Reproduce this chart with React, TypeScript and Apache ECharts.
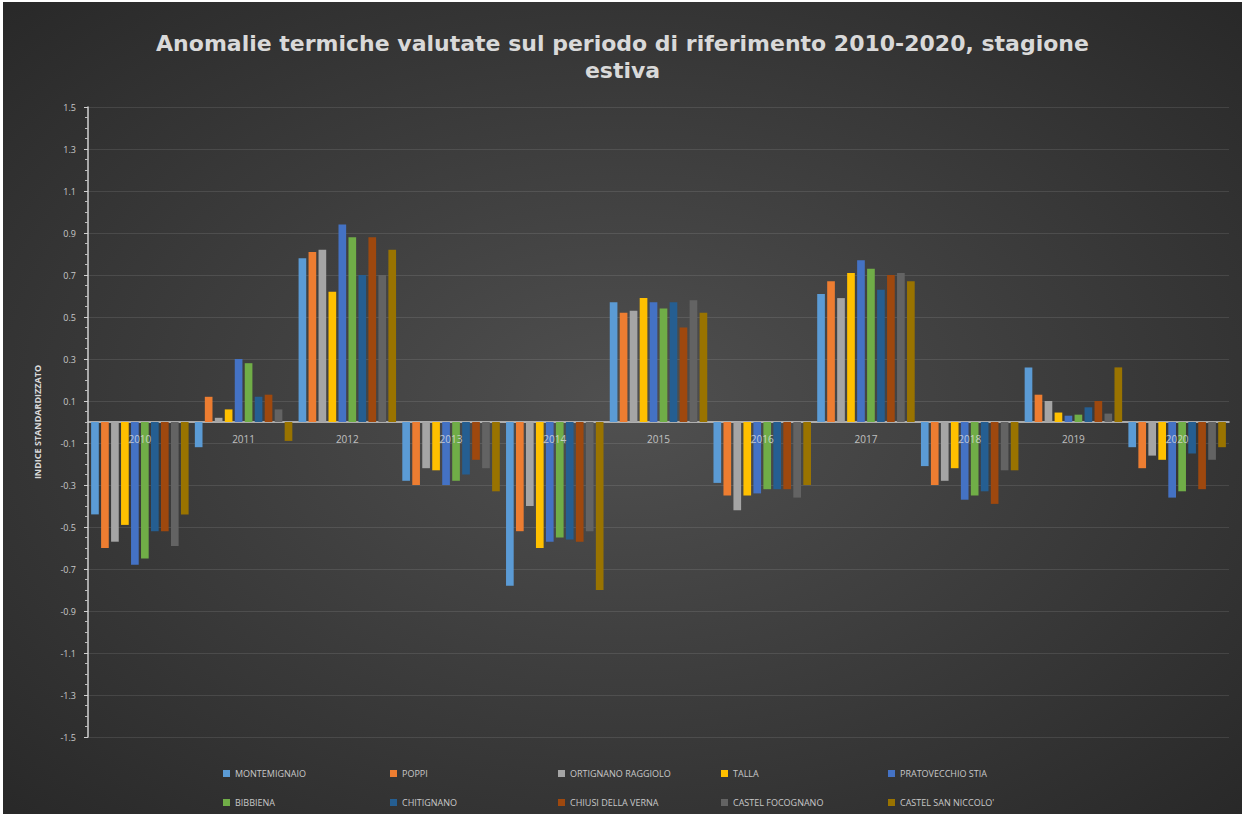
import React, { useEffect, useRef } from "react";
import * as echarts from "echarts";

const years = ["2010", "2011", "2012", "2013", "2014", "2015", "2016", "2017", "2018", "2019", "2020"];

const montemignaio = [-0.44, -0.12, 0.78, -0.28, -0.78, 0.57, -0.29, 0.61, -0.21, 0.26, -0.12];
const poppi = [-0.6, 0.12, 0.81, -0.3, -0.52, 0.52, -0.35, 0.67, -0.3, 0.13, -0.22];
const ortignano = [-0.57, 0.02, 0.82, -0.22, -0.4, 0.53, -0.42, 0.59, -0.28, 0.1, -0.16];
const talla = [-0.49, 0.06, 0.62, -0.23, -0.6, 0.59, -0.35, 0.71, -0.22, 0.045, -0.18];
const pratovecchio = [-0.68, 0.3, 0.94, -0.3, -0.57, 0.57, -0.34, 0.77, -0.37, 0.03, -0.36];
const bibbiena = [-0.65, 0.28, 0.88, -0.28, -0.55, 0.54, -0.32, 0.73, -0.35, 0.035, -0.33];
const chitignano = [-0.52, 0.12, 0.7, -0.25, -0.56, 0.57, -0.32, 0.63, -0.33, 0.07, -0.15];
const chiusi = [-0.52, 0.13, 0.88, -0.18, -0.57, 0.45, -0.32, 0.7, -0.39, 0.1, -0.32];
const castelFocognano = [-0.59, 0.06, 0.7, -0.22, -0.52, 0.58, -0.36, 0.71, -0.23, 0.04, -0.18];
const castelSanNiccolo = [-0.44, -0.09, 0.82, -0.33, -0.8, 0.52, -0.3, 0.67, -0.23, 0.26, -0.12];

const seriesNames = [
  "MONTEMIGNAIO",
  "POPPI",
  "ORTIGNANO RAGGIOLO",
  "TALLA",
  "PRATOVECCHIO STIA",
  "BIBBIENA",
  "CHITIGNANO",
  "CHIUSI DELLA VERNA",
  "CASTEL FOCOGNANO",
  "CASTEL SAN NICCOLO'",
];
const seriesData = [
  montemignaio,
  poppi,
  ortignano,
  talla,
  pratovecchio,
  bibbiena,
  chitignano,
  chiusi,
  castelFocognano,
  castelSanNiccolo,
];
const seriesColors = [
  "#5B9BD5",
  "#ED7D31",
  "#A5A5A5",
  "#FFC000",
  "#4472C4",
  "#70AD47",
  "#255E91",
  "#9E480E",
  "#636363",
  "#997300",
];

const title = "Anomalie termiche valutate sul periodo di riferimento 2010-2020, stagione\nestiva";
const yAxisTitle = "INDICE STANDARDIZZATO";

// legend layout (container coordinates)
const legendCols = [215, 382, 550, 713, 880];
const legendRows = [762, 791];

export default function App() {
  const ref = useRef<HTMLDivElement>(null);
  useEffect(() => {
    document.body.style.margin = "0";
    document.body.style.background = "#ffffff";
    const chart = echarts.init(ref.current!, null, { renderer: "svg" });
    const legends = seriesNames.map((name, i) => ({
      data: [name],
      left: legendCols[i % 5],
      top: legendRows[Math.floor(i / 5)],
      itemWidth: 7,
      itemHeight: 7,
      itemGap: 5,
      icon: "rect",
      textStyle: { color: "#c8c8c8", fontSize: 9, fontFamily: "Open Sans" },
    }));
    chart.setOption({
      animation: false,
      backgroundColor: {
        type: "radial",
        x: 0.5,
        y: 0.5,
        r: 0.75,
        colorStops: [
          { offset: 0, color: "#505050" },
          { offset: 1, color: "#262626" },
        ],
      },
      title: {
        text: title,
        left: "center",
        top: 23,
        textStyle: {
          color: "#d9d9d9",
          fontSize: 22,
          fontWeight: "bold",
          fontFamily: "DejaVu Sans",
          lineHeight: 27,
        },
      },
      legend: legends,
      grid: { left: 85, right: 13, top: 105, bottom: 77, containLabel: false },
      xAxis: {
        type: "category",
        data: years,
        axisLine: { onZero: true, lineStyle: { color: "#d0d0d0", width: 1.5 } },
        axisTick: { show: false },
        axisLabel: { show: false },
        splitLine: { show: false },
      },
      yAxis: {
        type: "value",
        min: -1.5,
        max: 1.5,
        interval: 0.2,
        name: yAxisTitle,
        nameLocation: "middle",
        nameGap: 46,
        nameTextStyle: {
          color: "#d9d9d9",
          fontSize: 9,
          fontWeight: "bold",
          fontFamily: "Open Sans",
        },
        axisLine: { show: true, lineStyle: { color: "#d0d0d0", width: 1.5 } },
        axisTick: { show: true, length: 4, lineStyle: { color: "#d0d0d0" } },
        minorTick: { show: true, splitNumber: 4, length: 3, lineStyle: { color: "#bbbbbb" } },
        axisLabel: {
          color: "#c8c8c8",
          fontSize: 9,
          fontFamily: "Open Sans",
          margin: 12,
          formatter: (v: number) => (Math.round(v * 10) / 10).toFixed(1),
        },
        splitLine: { show: true, lineStyle: { color: "rgba(255,255,255,0.1)", width: 1 } },
      },
      series: [
        ...seriesNames.map((name, i) => ({
          name,
          type: "bar",
          data: seriesData[i],
          barGap: "30%",
          barCategoryGap: "6%",
          itemStyle: { color: seriesColors[i] },
        })),
        {
          name: "yearLabels",
          type: "scatter",
          data: years.map(() => 0),
          symbolSize: 0,
          silent: true,
          z: 10,
          label: {
            show: true,
            position: "bottom",
            distance: 12,
            formatter: (p: any) => p.name,
            color: "#e0e0e0",
            fontSize: 10,
            fontFamily: "Open Sans",
          },
        },
      ],
    });
    return () => chart.dispose();
  }, []);
  return (
    <div
      ref={ref}
      style={{ position: "absolute", left: 3, top: 2, width: 1239, height: 812 }}
    />
  );
}
